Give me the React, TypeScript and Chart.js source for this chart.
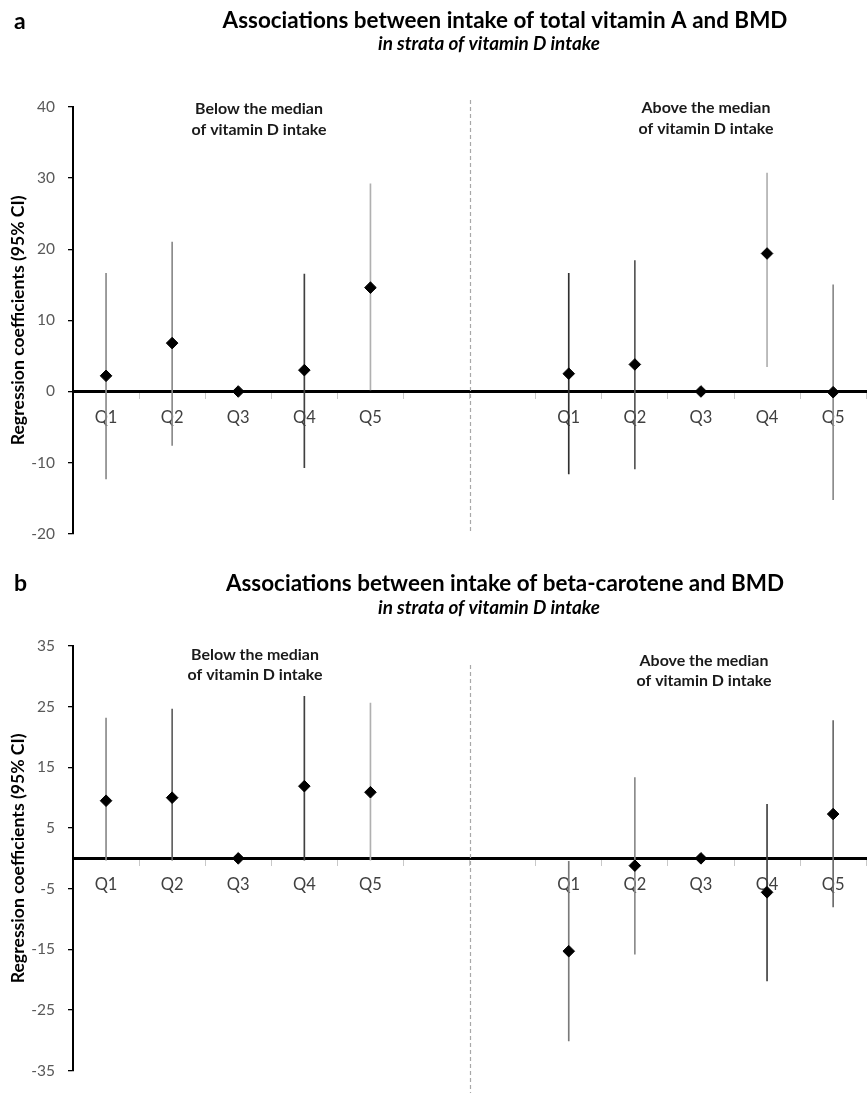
import React, { useEffect, useRef } from 'react';
import { Chart, registerables } from 'chart.js';

Chart.register(...registerables);

// ---------- data ----------
const categories = ['Q1', 'Q2', 'Q3', 'Q4', 'Q5', '', '', 'Q1', 'Q2', 'Q3', 'Q4', 'Q5'];

// Panel a: total vitamin A
const vitACoef = [2.2, 6.8, 0, 3.0, 14.6, null, null, 2.5, 3.8, 0, 19.4, -0.1];
const vitALower = [-12.3, -7.6, null, -10.7, 0.2, null, null, -11.6, -10.9, null, 3.5, -15.2];
const vitAUpper = [16.6, 21.0, null, 16.5, 29.2, null, null, 16.6, 18.4, null, 30.7, 15.0];
const vitATicks = [-20, -10, 0, 10, 20, 30, 40];

// Panel b: beta-carotene
const betaCoef = [9.5, 10.0, 0, 11.9, 10.9, null, null, -15.3, -1.2, 0, -5.6, 7.3];
const betaLower = [-0.3, -0.3, null, -0.3, -0.3, null, null, -30.1, -15.8, null, -20.2, -8.0];
const betaUpper = [23.1, 24.6, null, 26.7, 25.6, null, null, -0.5, 13.3, null, 8.9, 22.7];
const betaTicks = [-35, -25, -15, -5, 5, 15, 25, 35];

// ---------- styles ----------
const ciShadeA = ['#8a8a8a', '#8a8a8a', '#000', '#404040', '#b0b0b0', '#000', '#000', '#303030', '#555555', '#000', '#b0b0b0', '#8a8a8a'];
const ciShadeB = ['#8a8a8a', '#606060', '#000', '#404040', '#b0b0b0', '#000', '#000', '#7a7a7a', '#8a8a8a', '#000', '#404040', '#6a6a6a'];

const FAMILY = 'Lato, "Open Sans", "DejaVu Sans", sans-serif';
const TITLE_A = 'Associations between intake of total vitamin A and BMD';
const TITLE_B = 'Associations between intake of beta-carotene and BMD';
const SUBTITLE = 'in strata of vitamin D intake';
const YTITLE = 'Regression coefficients (95% CI)';

function fitSize(text: string, weight: string, base: number, target: number): number {
  const c = document.createElement('canvas');
  const ctx = c.getContext('2d');
  if (!ctx) return base;
  ctx.font = `${weight} ${base}px ${FAMILY}`;
  const w = ctx.measureText(text).width;
  return w > 0 ? (base * target) / w : base;
}

type TextItem = {
  text: string;
  x: number;
  y: number;
  weight: string;
  style?: string;
  size: number;
  color: string;
  align: CanvasTextAlign;
  fitRef?: string;
  fitWidth?: number;
};

const decorPlugin = {
  id: 'decor',
  beforeDatasetsDraw(chart: any, _args: any, opts: any) {
    const { ctx } = chart;
    const x = chart.scales.x;
    const sx = Math.round((x.getPixelForValue(opts.sepAfter) + x.getPixelForValue(opts.sepAfter + 1)) / 2) + 0.5;
    ctx.save();
    ctx.strokeStyle = '#a8a8a8';
    ctx.lineWidth = 1.2;
    ctx.setLineDash([4, 3]);
    ctx.beginPath();
    ctx.moveTo(sx, opts.sepTop);
    ctx.lineTo(sx, opts.sepBottom);
    ctx.stroke();
    ctx.restore();
  },
  afterDraw(chart: any, _args: any, opts: any) {
    const { ctx } = chart;
    for (const t of opts.texts as TextItem[]) {
      ctx.save();
      let size = t.size;
      const st = t.style ? t.style + ' ' : '';
      if (t.fitRef && t.fitWidth) {
        ctx.font = `${st}${t.weight} ${size}px ${FAMILY}`;
        const w = ctx.measureText(t.fitRef).width;
        size = (size * t.fitWidth) / w;
      }
      ctx.font = `${st}${t.weight} ${size}px ${FAMILY}`;
      ctx.fillStyle = t.color;
      ctx.textAlign = t.align;
      ctx.textBaseline = 'alphabetic';
      ctx.fillText(t.text, t.x, t.y);
      ctx.restore();
    }
  },
};

type PanelCfg = {
  height: number;
  padTop: number;
  padBottom: number;
  coef: (number | null)[];
  lower: (number | null)[];
  upper: (number | null)[];
  shades: string[];
  ticks: number[];
  sepTop: number;
  sepBottom: number;
  texts: TextItem[];
};

const CANVAS_W = 873;

function Panel({ cfg }: { cfg: PanelCfg }) {
  const ref = useRef<HTMLCanvasElement | null>(null);
  useEffect(() => {
    if (!ref.current) return;
    const ciData = cfg.lower.map((l, i) => (l == null || cfg.upper[i] == null ? null : [l, cfg.upper[i]]));
    const yTitleSize = fitSize(YTITLE, 'bold', 15, 250);
    const chart = new Chart(ref.current, {
      type: 'bar',
      data: {
        labels: categories,
        datasets: [
          {
            type: 'line',
            data: cfg.coef as any,
            showLine: false,
            pointStyle: 'rectRot',
            pointRadius: 5.8,
            pointHoverRadius: 5.8,
            pointBackgroundColor: '#000',
            pointBorderColor: '#000',
            pointBorderWidth: 1,
            order: 0,
          } as any,
          {
            type: 'bar',
            data: ciData as any,
            backgroundColor: cfg.shades,
            borderWidth: 0,
            barThickness: 1,
            order: 1,
          } as any,
        ],
      },
      options: {
        responsive: false,
        animation: false,
        devicePixelRatio: 1,
        layout: { padding: { top: cfg.padTop, bottom: cfg.padBottom, left: 0, right: 0 } },
        plugins: {
          legend: { display: false },
          tooltip: { enabled: false },
          decor: { sepAfter: 5, sepTop: cfg.sepTop, sepBottom: cfg.sepBottom, texts: cfg.texts },
        } as any,
        scales: {
          x: {
            type: 'category',
            position: { y: 0 } as any,
            offset: true,
            afterFit: (s: any) => {
              s.height = 0;
            },
            grid: {
              display: true,
              drawOnChartArea: false,
              drawTicks: true,
              tickLength: 6,
              color: '#c8c8c8',
              offset: true,
            },
            border: { display: true, color: '#000', width: 3 },
            ticks: {
              padding: 10,
              color: '#404040',
              font: { family: FAMILY, size: 16.5 },
              autoSkip: false,
              maxRotation: 0,
            },
          },
          y: {
            type: 'linear',
            min: cfg.ticks[0],
            max: cfg.ticks[cfg.ticks.length - 1],
            afterFit: (s: any) => {
              s.width = 73;
            },
            grid: {
              display: true,
              drawOnChartArea: false,
              drawTicks: true,
              tickLength: 5,
              color: '#000',
              lineWidth: 1.3,
            },
            border: { display: true, color: '#000', width: 2 },
            ticks: {
              stepSize: cfg.ticks[1] - cfg.ticks[0],
              padding: 13,
              color: '#595959',
              font: { family: FAMILY, size: 15.5 },
            },
            title: {
              display: true,
              text: YTITLE,
              color: '#000',
              font: { family: FAMILY, size: yTitleSize, weight: 'bold' },
              padding: { top: 8, bottom: 0 },
            },
          },
        },
      } as any,
      plugins: [decorPlugin as any],
    });
    return () => chart.destroy();
  }, [cfg]);
  return (
    <canvas
      ref={ref}
      width={CANVAS_W}
      height={cfg.height}
      style={{ display: 'block', width: CANVAS_W, height: cfg.height }}
    />
  );
}

const panelA: PanelCfg = {
  height: 556,
  padTop: 107,
  padBottom: 13,
  coef: vitACoef,
  lower: vitALower,
  upper: vitAUpper,
  shades: ciShadeA,
  ticks: vitATicks,
  sepTop: 100,
  sepBottom: 533,
  texts: [
    { text: 'a', x: 14, y: 29, weight: 'bold', size: 23, color: '#000', align: 'left' },
    { text: TITLE_A, x: 505, y: 28, weight: 'bold', size: 20, color: '#000', align: 'center', fitRef: TITLE_A, fitWidth: 565 },
    { text: SUBTITLE, x: 489, y: 50, weight: 'bold', style: 'italic', size: 15, color: '#000', align: 'center', fitRef: SUBTITLE, fitWidth: 222 },
    { text: 'Below the median', x: 259, y: 114, weight: 'bold', size: 14, color: '#1a1a1a', align: 'center', fitRef: 'Below the median', fitWidth: 128 },
    { text: 'of vitamin D intake', x: 259, y: 135, weight: 'bold', size: 14, color: '#1a1a1a', align: 'center', fitRef: 'Below the median', fitWidth: 128 },
    { text: 'Above the median', x: 706, y: 113, weight: 'bold', size: 14, color: '#1a1a1a', align: 'center', fitRef: 'Below the median', fitWidth: 128 },
    { text: 'of vitamin D intake', x: 706, y: 134, weight: 'bold', size: 14, color: '#1a1a1a', align: 'center', fitRef: 'Below the median', fitWidth: 128 },
  ],
};

const panelB: PanelCfg = {
  height: 537,
  padTop: 90,
  padBottom: 12,
  coef: betaCoef,
  lower: betaLower,
  upper: betaUpper,
  shades: ciShadeB,
  ticks: betaTicks,
  sepTop: 109,
  sepBottom: 537,
  texts: [
    { text: 'b', x: 14, y: 35, weight: 'bold', size: 23, color: '#000', align: 'left' },
    { text: TITLE_B, x: 505, y: 34.5, weight: 'bold', size: 20, color: '#000', align: 'center', fitRef: TITLE_A, fitWidth: 565 },
    { text: SUBTITLE, x: 489, y: 58, weight: 'bold', style: 'italic', size: 15, color: '#000', align: 'center', fitRef: SUBTITLE, fitWidth: 222 },
    { text: 'Below the median', x: 255, y: 104, weight: 'bold', size: 14, color: '#1a1a1a', align: 'center', fitRef: 'Below the median', fitWidth: 128 },
    { text: 'of vitamin D intake', x: 255, y: 124, weight: 'bold', size: 14, color: '#1a1a1a', align: 'center', fitRef: 'Below the median', fitWidth: 128 },
    { text: 'Above the median', x: 704, y: 110, weight: 'bold', size: 14, color: '#1a1a1a', align: 'center', fitRef: 'Below the median', fitWidth: 128 },
    { text: 'of vitamin D intake', x: 704, y: 130, weight: 'bold', size: 14, color: '#1a1a1a', align: 'center', fitRef: 'Below the median', fitWidth: 128 },
  ],
};

export default function App() {
  useEffect(() => {
    document.body.style.margin = '0';
    document.body.style.background = '#fff';
  }, []);
  return (
    <div style={{ width: 867, height: 1093, overflow: 'hidden', background: '#fff' }}>
      <Panel cfg={panelA} />
      <Panel cfg={panelB} />
    </div>
  );
}
